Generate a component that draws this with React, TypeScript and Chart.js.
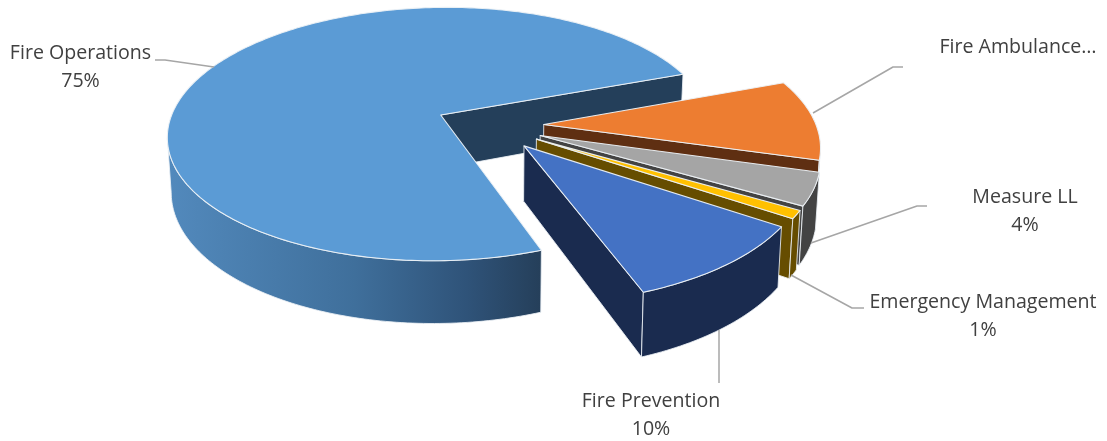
import React, { useEffect, useRef } from "react";
import { Chart, registerables } from "chart.js";

Chart.register(...registerables);

const categories = ["Fire Operations", "Fire Ambulance…", "Measure LL", "Emergency Management", "Fire Prevention"];
const shares = [75, 10, 4, 1, 10];
const showShare = [true, false, true, true, true];
const topColors = ["#5b9bd5", "#ed7d31", "#a5a5a5", "#ffc000", "#4472c4"];
const wallColors = ["#243f5a", "#5f2f12", "#434343", "#664d00", "#1a2b4f"];

// Callout placement: text centre and leader polyline.
const callouts = [
  { x: 80.5, y: 53, leader: [[214, 67], [165, 60], [155, 60]] },
  { x: 1018, y: 47, leader: [[813, 113], [893, 67], [903, 67]] },
  { x: 1025, y: 197, leader: [[811, 243], [917, 206], [927, 206]] },
  { x: 983, y: 302, leader: [[791, 275], [852, 308], [864, 308]] },
  { x: 651, y: 401, leader: [[719, 330], [719, 383]] },
];

// Perspective camera used to lay the flat pie on its side.
const camera = { x0: 489.5, y0: 125.5, a: 272.5, b: 127, p: 0.152, depth: 54, converge: 0.012 };

function project(u: number, v: number, z: number): [number, number] {
  const w = 1 / (1 - camera.p * v);
  const sx = camera.a * u * w * (1 - camera.converge * z);
  return [camera.x0 + sx, camera.y0 + camera.b * v * w + camera.depth * z * w];
}

function tracePath(ctx: CanvasRenderingContext2D, pts: [number, number][]) {
  ctx.beginPath();
  pts.forEach((p, i) => (i ? ctx.lineTo(p[0], p[1]) : ctx.moveTo(p[0], p[1])));
  ctx.closePath();
}

const pie3d = {
  id: "pie3d",
  beforeDatasetsDraw(chart: any) {
    const ctx: CanvasRenderingContext2D = chart.ctx;
    const arcs = chart.getDatasetMeta(0).data;
    const edge = "rgba(236,241,246,0.95)";

    const paint = (pts: [number, number][], fill: string | CanvasGradient, stroke: string, lw: number) => {
      tracePath(ctx, pts);
      ctx.fillStyle = fill;
      ctx.fill();
      ctx.strokeStyle = stroke;
      ctx.lineWidth = lw;
      ctx.lineJoin = "round";
      ctx.stroke();
    };

    arcs.forEach((arc: any, i: number) => {
      const { startAngle, endAngle, outerRadius } = arc.getProps(["startAngle", "endAngle", "outerRadius"], true);
      const mid = (startAngle + endAngle) / 2;
      const off = arc.options.offset || 0;
      const ox = (off * Math.cos(mid)) / outerRadius;
      const oy = (off * Math.sin(mid)) / outerRadius;
      const at = (r: number, a: number, z: number) => project(ox + r * Math.cos(a), oy + r * Math.sin(a), z);

      const steps = Math.max(8, Math.ceil((endAngle - startAngle) / (Math.PI / 180)));
      const angles: number[] = [];
      for (let s = 0; s <= steps; s++) angles.push(startAngle + ((endAngle - startAngle) * s) / steps);

      // Radial walls: only the ones turned towards the viewer are painted.
      const inner = at(0.5, mid, 0);
      [startAngle, endAngle].forEach((a) => {
        const A = at(0, a, 0);
        const P = at(1, a, 0);
        const ex = P[0] - A[0];
        const ey = P[1] - A[1];
        const sideInner = ex * (inner[1] - A[1]) - ey * (inner[0] - A[0]);
        if (sideInner * ex < 0) {
          paint([A, P, at(1, a, 1), at(0, a, 1)], wallColors[i], edge, 0.9);
        }
      });

      // Outer rim: the run of arc that faces the viewer.
      const run: number[] = [];
      for (let s = 0; s < angles.length - 1; s++) {
        if (at(1, angles[s + 1], 0)[0] < at(1, angles[s], 0)[0]) {
          if (!run.length) run.push(angles[s]);
          run.push(angles[s + 1]);
        }
      }
      if (run.length > 1) {
        const pts = [...run.map((a) => at(1, a, 0)), ...run.slice().reverse().map((a) => at(1, a, 1))];
        let fill: string | CanvasGradient = wallColors[i];
        if (i === 0) {
          const g = ctx.createLinearGradient(170, 0, 541, 0);
          g.addColorStop(0, "#5289bc");
          g.addColorStop(0.5, "#3f6f9b");
          g.addColorStop(0.8, "#2f5379");
          g.addColorStop(1, "#253f5a");
          fill = g;
        }
        paint(pts, fill, edge, 0.9);
      }

      const top: [number, number][] = [at(0, startAngle, 0), ...angles.map((a) => at(1, a, 0))];
      paint(top, topColors[i], edge, 1.1);
    });

    return false;
  },
  afterDraw(chart: any) {
    const ctx: CanvasRenderingContext2D = chart.ctx;
    const total = shares.reduce((a, b) => a + b, 0);
    ctx.save();
    ctx.strokeStyle = "#a6a6a6";
    ctx.lineWidth = 1.5;
    callouts.forEach((c) => {
      ctx.beginPath();
      c.leader.forEach((p, i) => (i ? ctx.lineTo(p[0], p[1]) : ctx.moveTo(p[0], p[1])));
      ctx.stroke();
    });
    ctx.fillStyle = "#404040";
    ctx.font = '19.6px "Open Sans", sans-serif';
    ctx.textAlign = "center";
    ctx.textBaseline = "middle";
    callouts.forEach((c, i) => {
      ctx.fillText(categories[i], c.x, c.y);
      if (showShare[i]) ctx.fillText(`${Math.round((shares[i] / total) * 100)}%`, c.x, c.y + 28);
    });
    ctx.restore();
  },
};

export default function App() {
  const ref = useRef<HTMLCanvasElement>(null);
  useEffect(() => {
    const chart = new Chart(ref.current as HTMLCanvasElement, {
      type: "pie",
      data: {
        labels: categories,
        datasets: [{ data: shares, backgroundColor: topColors, offset: 40, borderWidth: 0 }],
      },
      options: {
        responsive: false,
        animation: false,
        rotation: 159.7,
        layout: { padding: 0 },
        events: [],
        plugins: { legend: { display: false }, tooltip: { enabled: false } },
      },
      plugins: [pie3d],
    } as any);
    return () => chart.destroy();
  }, []);
  return (
    <div style={{ position: "absolute", left: 0, top: 0, width: 1107, height: 441, background: "#fff" }}>
      <canvas ref={ref} width={1107} height={441} style={{ display: "block" }} />
    </div>
  );
}
